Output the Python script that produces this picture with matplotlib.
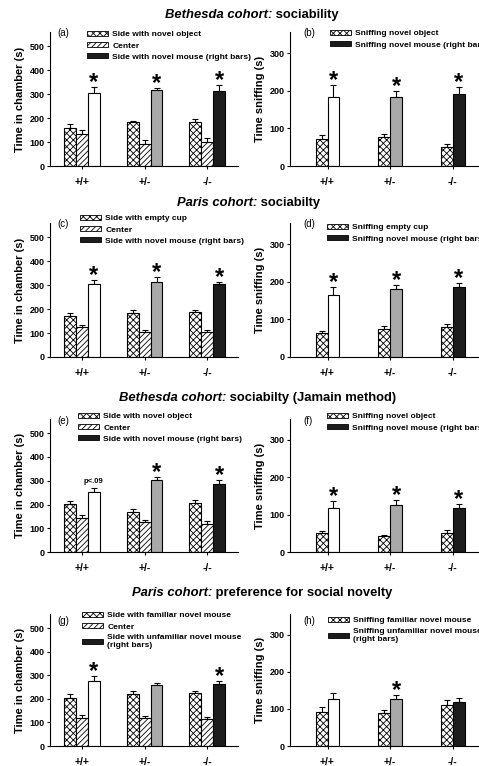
import numpy as np
import matplotlib
matplotlib.use("Agg")
import matplotlib.pyplot as plt
from matplotlib.patches import Patch

plt.rcParams['font.family'] = ['Liberation Sans', 'DejaVu Sans']
plt.rcParams['hatch.linewidth'] = 0.6

W, H = 479, 766
genotypes = ["+/+", "+/-", "-/-"]
third_colors = ["white", "#a9a9a9", "#1c1c1c"]

# (a) Bethesda sociability, time in chamber
a_side1 = [160, 182, 183]; a_side1_err = [14, 8, 14]
a_center = [132, 94, 99]; a_center_err = [18, 14, 19]
a_mouse = [304, 318, 315]; a_mouse_err = [25, 7, 22]
a_star = [True, True, True]
# (b) Bethesda sociability, sniffing
b_side1 = [73, 77, 51]; b_side1_err = [10, 7, 7]
b_mouse = [182, 183, 191]; b_mouse_err = [33, 16, 18]
b_star = [True, True, True]
# (c) Paris sociability, time in chamber
c_side1 = [171, 182, 187]; c_side1_err = [14, 16, 11]
c_center = [127, 103, 104]; c_center_err = [8, 8, 7]
c_mouse = [304, 313, 305]; c_mouse_err = [18, 20, 8]
c_star = [True, True, True]
# (d) Paris sociability, sniffing
d_side1 = [64, 75, 79]; d_side1_err = [5, 7, 9]
d_mouse = [166, 180, 185]; d_mouse_err = [19, 11, 11]
d_star = [True, True, True]
# (e) Bethesda Jamain method, time in chamber
e_side1 = [201, 168, 207]; e_side1_err = [13, 11, 10]
e_center = [144, 125, 118]; e_center_err = [10, 10, 14]
e_mouse = [254, 303, 285]; e_mouse_err = [15, 12, 18]
e_star = [False, True, True]
# (f) Bethesda Jamain method, sniffing
f_side1 = [52, 43, 51]; f_side1_err = [3, 3, 7]
f_mouse = [119, 126, 118]; f_mouse_err = [18, 13, 10]
f_star = [True, True, True]
# (g) Paris social novelty, time in chamber
g_side1 = [205, 222, 224]; g_side1_err = [14, 11, 8]
g_center = [118, 118, 114]; g_center_err = [13, 10, 11]
g_mouse = [275, 258, 264]; g_mouse_err = [21, 11, 10]
g_star = [True, False, True]
# (h) Paris social novelty, sniffing
h_side1 = [91, 89, 110]; h_side1_err = [13, 9, 14]
h_mouse = [126, 126, 120]; h_mouse_err = [16, 11, 9]
h_star = [False, True, False]

left_legends = [
    ["Side with novel object", "Center", "Side with novel mouse (right bars)"],
    ["Side with empty cup", "Center", "Side with novel mouse (right bars)"],
    ["Side with novel object", "Center", "Side with novel mouse (right bars)"],
    ["Side with familiar novel mouse", "Center", "Side with unfamiliar novel mouse\n(right bars)"],
]
right_legends = [
    ["Sniffing novel object", "Sniffing novel mouse (right bars)"],
    ["Sniffing empty cup", "Sniffing novel mouse (right bars)"],
    ["Sniffing novel object", "Sniffing novel mouse (right bars)"],
    ["Sniffing familiar novel mouse", "Sniffing unfamiliar novel mouse\n(right bars)"],
]
titles = [
    ("Bethesda cohort:", " sociability"),
    ("Paris cohort:", " sociabilty"),
    ("Bethesda cohort:", " sociabilty (Jamain method)"),
    ("Paris cohort:", " preference for social novelty"),
]
title_x = [165, 177, 119, 132]
title_y = [15, 203, 398, 593]

fig = plt.figure(figsize=(W / 100, H / 100), dpi=100)

def px_axes(x0, x1, top, bottom):
    return fig.add_axes([x0 / W, 1 - bottom / H, (x1 - x0) / W, (bottom - top) / H])

def style_axes(ax, ylim, yticks):
    ax.spines[['top', 'right']].set_visible(False)
    for s in ax.spines.values():
        s.set_linewidth(0.8)
    ax.set_ylim(*ylim)
    ax.set_yticks(yticks)
    ax.set_xticks(range(3))
    ax.set_xticklabels(genotypes, fontsize=7.5, fontweight='bold')
    ax.tick_params(axis='y', length=2.5, width=0.8, labelsize=6.5, pad=1.5)
    ax.tick_params(axis='x', length=2, width=0.8, pad=6)
    for lab in ax.get_yticklabels():
        lab.set_fontweight('bold')

def draw_bars(ax, series, errs, styles, offsets, width):
    x = np.arange(3)
    for vals, err, st, off in zip(series, errs, styles, offsets):
        ax.bar(x + off, vals, width, color=st['color'], hatch=st.get('hatch'),
               edgecolor='black', linewidth=0.8, zorder=2)
        ax.errorbar(x + off, vals, yerr=[np.zeros(3), err], fmt='none',
                    ecolor='black', elinewidth=0.8, capsize=2.2, capthick=0.8, zorder=1)

def draw_stars(ax, xpos, tops, stars):
    for xi, t, s in zip(xpos, tops, stars):
        if s:
            ax.annotate("*", (xi, t), xytext=(0, -1.5), textcoords='offset points',
                        ha='center', va='baseline', fontsize=17, fontweight='bold')

left_rows = [(32, 166), (223, 357), (419, 552), (614, 746)]
left_data = [
    (a_side1, a_side1_err, a_center, a_center_err, a_mouse, a_mouse_err, a_star),
    (c_side1, c_side1_err, c_center, c_center_err, c_mouse, c_mouse_err, c_star),
    (e_side1, e_side1_err, e_center, e_center_err, e_mouse, e_mouse_err, e_star),
    (g_side1, g_side1_err, g_center, g_center_err, g_mouse, g_mouse_err, g_star),
]
right_data = [
    (b_side1, b_side1_err, b_mouse, b_mouse_err, b_star),
    (d_side1, d_side1_err, d_mouse, d_mouse_err, d_star),
    (f_side1, f_side1_err, f_mouse, f_mouse_err, f_star),
    (h_side1, h_side1_err, h_mouse, h_mouse_err, h_star),
]
left_leg_pos = [(87, 31), (80, 215), (78, 413), (82, 612)]
right_leg_pos = [(330, 30), (327, 224), (327, 413), (328, 617)]
letters_left = ["(a)", "(c)", "(e)", "(g)"]
letters_right = ["(b)", "(d)", "(f)", "(h)"]
letter_y = [33, 224, 421, 621]
leg_kw = dict(loc='upper left', frameon=False, borderpad=0, borderaxespad=0,
              handlelength=2.5, handleheight=0.55, handletextpad=0.55,
              labelspacing=0.45, prop={'size': 6, 'weight': 'bold'})

bw = 0.19
for i in range(4):
    top, bottom = left_rows[i]
    # left panel: time in chamber
    ax = px_axes(50, 238, top, bottom)
    s1, s1e, cen, cene, mo, moe, star = left_data[i]
    draw_bars(ax, [s1, cen, mo], [s1e, cene, moe],
              [{'color': 'white', 'hatch': 'xxxxx'}, {'color': 'white', 'hatch': '//////'}, {'color': 'white'}],
              [-bw, 0, bw], bw)
    for j, b in enumerate(ax.patches[6:9]):
        b.set_facecolor(third_colors[j])
    style_axes(ax, (0, 560), range(0, 501, 100))
    ax.set_xlim(-0.51, 2.49)
    ax.set_ylabel("Time in chamber (s)", fontsize=8, fontweight='bold', labelpad=3)
    draw_stars(ax, np.arange(3) + bw, np.array(mo) + np.array(moe), star)
    if i == 2:
        ax.annotate("p<.09", (bw, mo[0] + moe[0]), xytext=(0, 2.5), textcoords='offset points',
                    ha='center', va='bottom', fontsize=5.5, fontweight='bold')
    handles = [Patch(facecolor='white', edgecolor='black', hatch='xxxxx', linewidth=0.6),
               Patch(facecolor='white', edgecolor='black', hatch='//////', linewidth=0.6),
               Patch(facecolor='#1c1c1c', edgecolor='black', linewidth=0.6)]
    lx, ly = left_leg_pos[i]
    fig.legend(handles, left_legends[i], bbox_to_anchor=(lx / W, 1 - ly / H), **leg_kw)
    fig.text(57 / W, 1 - letter_y[i] / H, letters_left[i], fontsize=7, va='center')

    # right panel: sniffing
    ax = px_axes(290, 479, top, bottom)
    s1, s1e, mo, moe, star = right_data[i]
    draw_bars(ax, [s1, mo], [s1e, moe],
              [{'color': 'white', 'hatch': 'xxxxx'}, {'color': 'white'}],
              [-bw / 2, bw / 2], bw)
    for j, b in enumerate(ax.patches[3:6]):
        b.set_facecolor(third_colors[j])
    style_axes(ax, (0, 356), range(0, 301, 100))
    ax.set_xlim(-0.6, 2.42)
    ax.set_ylabel("Time sniffing (s)", fontsize=8, fontweight='bold', labelpad=3)
    draw_stars(ax, np.arange(3) + bw / 2, np.array(mo) + np.array(moe), star)
    handles = [Patch(facecolor='white', edgecolor='black', hatch='xxxxx', linewidth=0.6),
               Patch(facecolor='#1c1c1c', edgecolor='black', linewidth=0.6)]
    lx, ly = right_leg_pos[i]
    fig.legend(handles, right_legends[i], bbox_to_anchor=(lx / W, 1 - ly / H), **leg_kw)
    fig.text(303 / W, 1 - letter_y[i] / H, letters_right[i], fontsize=7, va='center')

# titles: italic bold cohort name followed by bold description
fig.canvas.draw()
for i, (p1, p2) in enumerate(titles):
    t1 = fig.text(title_x[i] / W, 1 - title_y[i] / H, p1, fontsize=9.4, fontweight='bold',
                  style='italic', va='center')
    bb = t1.get_window_extent(renderer=fig.canvas.get_renderer())
    fig.text(bb.x1 / W, 1 - title_y[i] / H, p2, fontsize=9.4, fontweight='bold', va='center')

fig.savefig("out.png", dpi=100)
